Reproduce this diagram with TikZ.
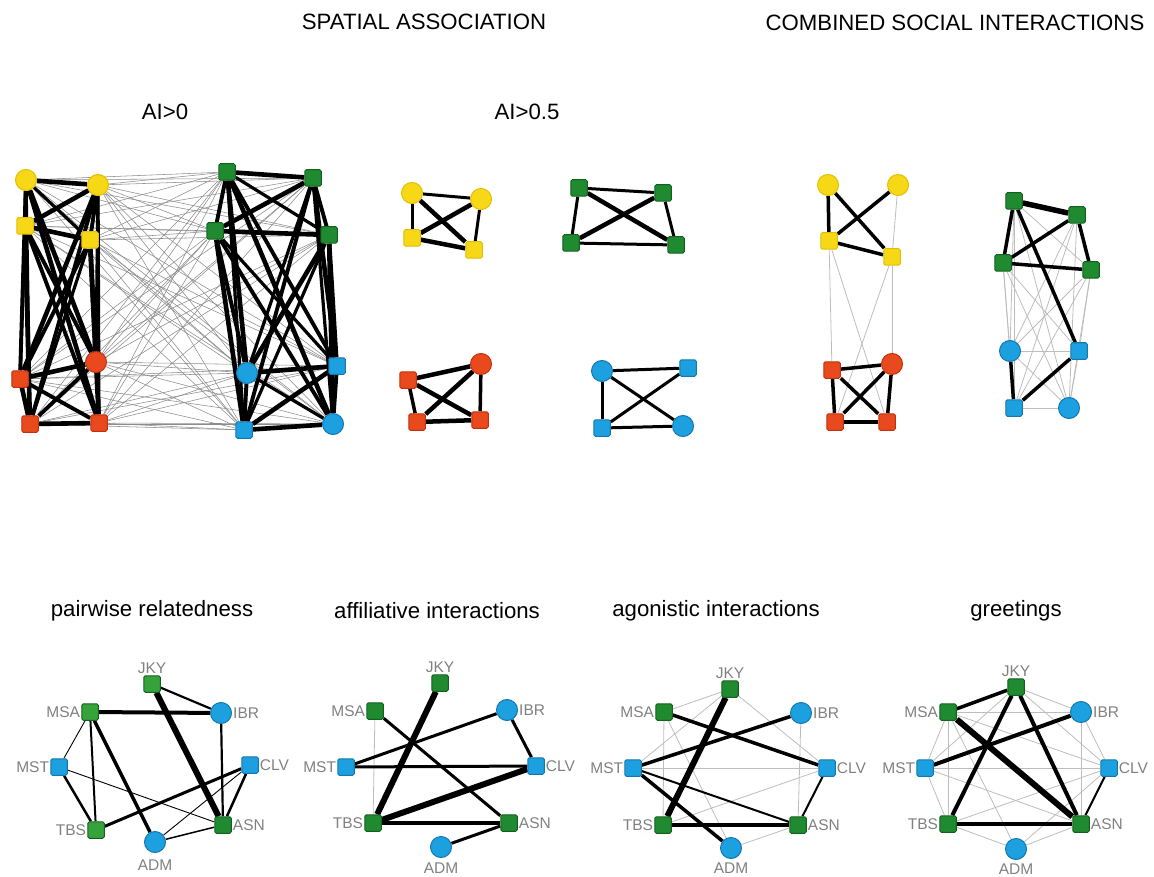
\documentclass[tikz,border=0pt]{standalone}
\usepackage{fontspec}
\setmainfont{Liberation Sans}
\pgfdeclarelayer{edges}
\pgfsetlayers{edges,main}
\definecolor{yel}{HTML}{F7D817}
\definecolor{yelb}{HTML}{E3BE00}
\definecolor{red}{HTML}{E84A1E}
\definecolor{redb}{HTML}{C2300E}
\definecolor{grn}{HTML}{1F8A2F}
\definecolor{grnb}{HTML}{14601F}
\definecolor{lgrn}{HTML}{36A23A}
\definecolor{blu}{HTML}{1DA0DF}
\definecolor{blub}{HTML}{1478AE}
\definecolor{lblgray}{HTML}{808080}
\definecolor{hair}{HTML}{8C8C8C}
\definecolor{faint}{HTML}{BDBDBD}
\tikzset{
  circ/.style={circle,inner sep=0pt,minimum size=21pt,line width=1pt},
  sqr/.style={rectangle,rounded corners=1.5pt,inner sep=0pt,minimum size=16.5pt,line width=1pt},
  Y/.style={fill=yel,draw=yelb},
  R/.style={fill=red,draw=redb},
  G/.style={fill=grn,draw=grnb},
  LG/.style={fill=lgrn,draw=grnb},
  B/.style={fill=blu,draw=blub},
  lbl/.style={text=lblgray,font=\fontsize{15.5}{16}\selectfont,inner sep=1pt},
  ttl/.style={font=\fontsize{22.2}{23}\selectfont},
  thin/.style={draw=faint,line width=0.8pt},
  hairline/.style={draw=hair,line width=0.55pt},
}
\begin{document}
\begin{tikzpicture}[x=1pt,y=-1pt]
\useasboundingbox (0,0) rectangle (1154,877);

% ---------- titles ----------
\node[ttl] (tSA) at (424,22) {SPATIAL ASSOCIATION};
\node[ttl] (tCS) at (955,23) {COMBINED SOCIAL INTERACTIONS};
\node[ttl] (tA0) at (165,112) {AI>0};
\node[ttl] (tA5) at (527,112) {AI>0.5};
\node[ttl] (tPR) at (152,611) {pairwise relatedness};
\node[ttl] (tAF) at (437,611) {affiliative interactions};
\node[ttl] (tAG) at (716,611) {agonistic interactions};
\node[ttl] (tGR) at (1016,611) {greetings};

% ---------- AI>0 ----------
\node[circ,Y] (aL1) at (26,180) {};
\node[circ,Y] (aL2) at (98,185) {};
\node[sqr,Y]  (aL3) at (25,226) {};
\node[sqr,Y]  (aL4) at (90,240) {};
\node[circ,R] (aL5) at (96,362) {};
\node[sqr,R]  (aL6) at (20,379) {};
\node[sqr,R]  (aL7) at (30,424) {};
\node[sqr,R]  (aL8) at (99,423) {};
\node[sqr,G]  (aR1) at (227,172) {};
\node[sqr,G]  (aR2) at (313,178) {};
\node[sqr,G]  (aR3) at (215,231) {};
\node[sqr,G]  (aR4) at (329,235) {};
\node[circ,B] (aR5) at (247,373) {};
\node[sqr,B]  (aR6) at (337,366) {};
\node[sqr,B]  (aR7) at (244,430) {};
\node[circ,B] (aR8) at (333,424) {};
\begin{pgfonlayer}{edges}
  % weak links between the two clusters
  \foreach \i in {1,...,8}{
    \foreach \j in {1,...,8}{
      \draw[hairline] (aL\i) -- (aR\j);
    }
  }
  % strong links inside each cluster
  \foreach \i [evaluate=\i as \k using int(\i+1)] in {1,...,7}{
    \foreach \j in {\k,...,8}{
      \pgfmathsetmacro{\w}{3.2+0.7*mod(\i+2*\j,3)}
      \draw[line width=\w pt] (aL\i) -- (aL\j);
      \draw[line width=\w pt] (aR\i) -- (aR\j);
    }
  }
\end{pgfonlayer}

% ---------- AI>0.5 ----------
\node[circ,Y] (bY1) at (412,193) {};
\node[circ,Y] (bY2) at (481,199) {};
\node[sqr,Y]  (bY3) at (412,238) {};
\node[sqr,Y]  (bY4) at (474,250) {};
\node[sqr,G]  (bG1) at (579,188) {};
\node[sqr,G]  (bG2) at (663,193) {};
\node[sqr,G]  (bG3) at (571,243) {};
\node[sqr,G]  (bG4) at (676,245) {};
\node[circ,R] (bR1) at (481,364) {};
\node[sqr,R]  (bR2) at (408,380) {};
\node[sqr,R]  (bR3) at (417,422) {};
\node[sqr,R]  (bR4) at (480,420) {};
\node[circ,B] (bB1) at (602,371) {};
\node[sqr,B]  (bB2) at (688,368) {};
\node[sqr,B]  (bB3) at (602,428) {};
\node[circ,B] (bB4) at (683,426) {};
\begin{pgfonlayer}{edges}
  \foreach \u/\v/\w in {bY1/bY2/3,bY1/bY3/3,bY1/bY4/4.5,bY2/bY3/4.5,bY2/bY4/3,bY3/bY4/4.5,
      bG1/bG2/3,bG1/bG3/3,bG1/bG4/4.5,bG2/bG3/4.5,bG2/bG4/3,bG3/bG4/3,
      bR2/bR1/4.5,bR1/bR3/4.5,bR1/bR4/3.5,bR2/bR3/3.5,bR2/bR4/4.5,bR3/bR4/4.5,
      bB1/bB2/3,bB1/bB3/3,bB1/bB4/3,bB2/bB3/3,bB3/bB4/3}
    \draw[line width=\w pt] (\u) -- (\v);
\end{pgfonlayer}

% ---------- combined social interactions ----------
\node[circ,Y] (cY1) at (828,185) {};
\node[circ,Y] (cY2) at (898,185) {};
\node[sqr,Y]  (cY3) at (829,241) {};
\node[sqr,Y]  (cY4) at (892,257) {};
\node[sqr,R]  (cR2) at (832,370) {};
\node[circ,R] (cR1) at (892,364) {};
\node[sqr,R]  (cR3) at (835,422) {};
\node[sqr,R]  (cR4) at (887,422) {};
\node[sqr,G]  (cG1) at (1014,201) {};
\node[sqr,G]  (cG2) at (1077,215) {};
\node[sqr,G]  (cG3) at (1003,263) {};
\node[sqr,G]  (cG4) at (1091,270) {};
\node[circ,B] (cB1) at (1010,351) {};
\node[sqr,B]  (cB2) at (1079,351) {};
\node[sqr,B]  (cB3) at (1014,408) {};
\node[circ,B] (cB4) at (1069,408) {};
\begin{pgfonlayer}{edges}
  \foreach \u/\v in {cY2/cY4,cY3/cR2,cY3/cR4,cY4/cR1,cY4/cR3,
      cG1/cB1,cG1/cB3,cG1/cB4,cG1/cG4,cG2/cB1,cG2/cB3,cG2/cB4,
      cG3/cB1,cG3/cB2,cG3/cB3,cG3/cB4,cG4/cB1,cG4/cB2,cG4/cB3,cG4/cB4,
      cB1/cB2,cB3/cB4,cB1/cB4,cB2/cB4}
    \draw[thin] (\u) -- (\v);
  \foreach \u/\v/\w in {cY1/cY3/3.5,cY1/cY4/3.5,cY2/cY3/3.5,cY3/cY4/3.5,
      cR2/cR1/3.5,cR2/cR3/3.5,cR2/cR4/3.5,cR1/cR3/3.5,cR1/cR4/3.5,cR3/cR4/3.5,
      cG1/cG2/5.5,cG1/cG3/3.5,cG1/cB2/3.5,cG2/cG3/3.5,cG2/cG4/3.5,cG3/cG4/3.5,
      cB1/cB3/3.5,cB2/cB3/3.5}
    \draw[line width=\w pt] (\u) -- (\v);
\end{pgfonlayer}

% ---------- pairwise relatedness ----------
\node[sqr,LG,label={[lbl]above:JKY}] (pJKY) at (152,684) {};
\node[sqr,LG,label={[lbl]left:MSA}]  (pMSA) at (90,712) {};
\node[circ,B,label={[lbl]right:IBR}] (pIBR) at (221,713) {};
\node[sqr,B,label={[lbl]left:MST}]   (pMST) at (59,767) {};
\node[sqr,B,label={[lbl]right:CLV}]  (pCLV) at (250,765) {};
\node[sqr,LG,label={[lbl]left:TBS}]  (pTBS) at (96,830) {};
\node[sqr,G,label={[lbl]right:ASN}]  (pASN) at (223,825) {};
\node[circ,B,label={[lbl,label distance=6pt]below:ADM}] (pADM) at (155,842) {};
\begin{pgfonlayer}{edges}
  \foreach \u/\v/\w in {pJKY/pIBR/2.2,pJKY/pASN/6,pMSA/pIBR/4,pMSA/pMST/0.9,
      pMSA/pTBS/2,pMSA/pADM/3.5,pIBR/pASN/2.2,pMST/pTBS/2.5,pMST/pASN/0.9,
      pCLV/pTBS/3,pCLV/pASN/2.5,pCLV/pADM/0.9,pADM/pASN/1.5}
    \draw[line width=\w pt] (\u) -- (\v);
\end{pgfonlayer}

% ---------- affiliative interactions ----------
\node[sqr,G,label={[lbl]above:JKY}]  (fJKY) at (440,683) {};
\node[sqr,G,label={[lbl]left:MSA}]   (fMSA) at (375,711) {};
\node[circ,B,label={[lbl]right:IBR}] (fIBR) at (507,710) {};
\node[sqr,B,label={[lbl]left:MST}]   (fMST) at (346,767) {};
\node[sqr,B,label={[lbl]right:CLV}]  (fCLV) at (536,766) {};
\node[sqr,G,label={[lbl]left:TBS}]   (fTBS) at (373,823) {};
\node[sqr,G,label={[lbl]right:ASN}]  (fASN) at (509,823) {};
\node[circ,B,label={[lbl,label distance=4pt]below:ADM}] (fADM) at (441,847) {};
\begin{pgfonlayer}{edges}
  \draw[thin] (fMSA) -- (fTBS);
  \foreach \u/\v/\w in {fJKY/fTBS/6,fMSA/fASN/3,fIBR/fMST/3,fIBR/fCLV/3,
      fMST/fCLV/3,fTBS/fCLV/6,fTBS/fASN/3.5,fADM/fASN/3}
    \draw[line width=\w pt] (\u) -- (\v);
\end{pgfonlayer}

% ---------- agonistic interactions ----------
\node[sqr,G,label={[lbl]above:JKY}]  (gJKY) at (730,689) {};
\node[sqr,G,label={[lbl]left:MSA}]   (gMSA) at (664,712) {};
\node[circ,B,label={[lbl]right:IBR}] (gIBR) at (801,713) {};
\node[sqr,B,label={[lbl]left:MST}]   (gMST) at (633,768) {};
\node[sqr,B,label={[lbl]right:CLV}]  (gCLV) at (827,768) {};
\node[sqr,G,label={[lbl]left:TBS}]   (gTBS) at (663,825) {};
\node[sqr,G,label={[lbl]right:ASN}]  (gASN) at (798,825) {};
\node[circ,B,label={[lbl,label distance=3pt]below:ADM}] (gADM) at (731,848) {};
\begin{pgfonlayer}{edges}
  \foreach \u/\v in {gJKY/gMSA,gJKY/gMST,gJKY/gCLV,gMSA/gTBS,gMSA/gADM,gIBR/gASN,
      gMST/gCLV,gTBS/gCLV,gADM/gASN}
    \draw[thin] (\u) -- (\v);
  \foreach \u/\v/\w in {gJKY/gTBS/6,gMSA/gCLV/3.5,gIBR/gMST/3.5,gMST/gADM/3.5,
      gMST/gASN/2,gTBS/gASN/4,gCLV/gASN/2}
    \draw[line width=\w pt] (\u) -- (\v);
\end{pgfonlayer}

% ---------- greetings ----------
\node[sqr,G,label={[lbl]above:JKY}]  (hJKY) at (1016,687) {};
\node[sqr,G,label={[lbl]left:MSA}]   (hMSA) at (948,712) {};
\node[circ,B,label={[lbl]right:IBR}] (hIBR) at (1081,712) {};
\node[sqr,B,label={[lbl]left:MST}]   (hMST) at (925,768) {};
\node[sqr,B,label={[lbl]right:CLV}]  (hCLV) at (1109,768) {};
\node[sqr,G,label={[lbl]left:TBS}]   (hTBS) at (948,824) {};
\node[sqr,G,label={[lbl]right:ASN}]  (hASN) at (1081,824) {};
\node[circ,B,label={[lbl,label distance=3pt]below:ADM}] (hADM) at (1016,849) {};
\begin{pgfonlayer}{edges}
  \foreach \u/\v in {hJKY/hIBR,hJKY/hCLV,hMSA/hIBR,hMSA/hMST,hMSA/hTBS,hMSA/hCLV,
      hMSA/hADM,hIBR/hASN,hIBR/hCLV,hMST/hCLV,hMST/hTBS,hMST/hASN,hTBS/hCLV,
      hADM/hASN,hADM/hCLV,hTBS/hADM,hJKY/hMST}
    \draw[thin] (\u) -- (\v);
  \foreach \u/\v/\w in {hMSA/hJKY/3.5,hMSA/hASN/6,hJKY/hTBS/4,hJKY/hASN/4,
      hIBR/hMST/4,hTBS/hASN/4.5,hCLV/hASN/2}
    \draw[line width=\w pt] (\u) -- (\v);
\end{pgfonlayer}
\end{tikzpicture}
\end{document}
